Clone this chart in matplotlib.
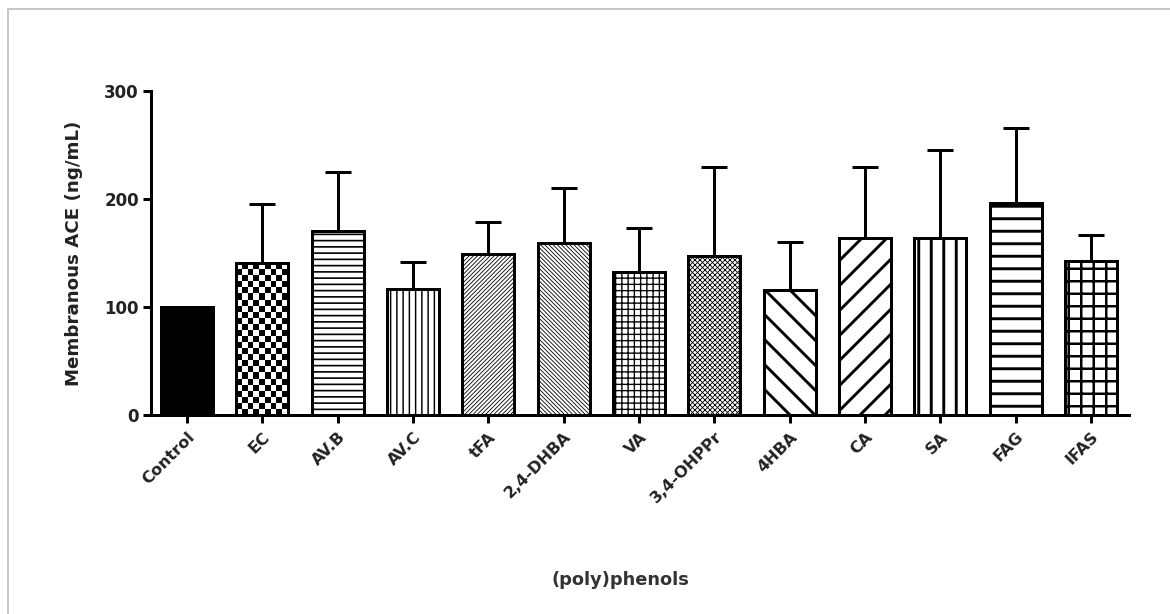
import numpy as np
import matplotlib
matplotlib.use("Agg")
import matplotlib.pyplot as plt
from matplotlib.patches import Rectangle

# Membranous ACE per (poly)phenol treatment, mean and upper SD
compounds = ["Control", "EC", "AV.B", "AV.C", "tFA", "2,4-DHBA", "VA",
             "3,4-OHPPr", "4HBA", "CA", "SA", "FAG", "IFAS"]
ace_mean = [100, 141, 170, 117, 149, 159, 132, 147, 116, 164, 164, 196, 143]
ace_sd = [0, 54, 55, 25, 30, 51, 41, 83, 44, 66, 81, 70, 24]
y_ticks = [0, 100, 200, 300]

# fill pattern per bar: (hatch, hatch line width in pt)
patterns = [None, "checker", "--", "||", "//////", "\\\\\\\\\\\\", "++",
            "xxxxx", "\\", "/", "|", "-", "+"]
hatch_lw = [0, 0, 1.6, 1.4, 0.8, 0.8, 1.3, 0.8, 2.8, 2.8, 2.8, 2.8, 2.4]

DPI = 75
W, H = 1170, 614
px = 72.0 / DPI  # points per pixel

plt.rcParams['font.family'] = ['DejaVu Sans']
plt.rcParams['hatch.color'] = 'black'

fig = plt.figure(figsize=(W / DPI, H / DPI), dpi=DPI)
ax = fig.add_axes([151 / W, (H - 415) / H, (1129 - 151) / W, (415 - 91) / H])

x = np.arange(len(compounds))
bar_w = 0.69
bars = ax.bar(x, ace_mean, width=bar_w, color='white', edgecolor='black',
              linewidth=3 * px, zorder=2)
for b, pat, lw in zip(bars, patterns, hatch_lw):
    if pat is None:
        b.set_facecolor('black')
    elif pat == "checker":
        # checkerboard fill clipped to the bar outline
        b.set_facecolor('none')
        x0, y0 = b.get_x(), b.get_y()
        bw, bh = b.get_width(), b.get_height()
        ncol = 9
        cell = 5.6
        nrow = int(np.ceil(bh / cell))
        board = (np.add.outer(np.arange(nrow), np.arange(ncol)) % 2).astype(float)
        im = ax.imshow(board, cmap='gray', interpolation='nearest', aspect='auto',
                       extent=[x0, x0 + bw, y0, y0 + nrow * cell], zorder=1.5)
        im.set_clip_path(b)
    else:
        b.set_hatch(pat)
        if hasattr(b, 'set_hatch_linewidth'):
            b.set_hatch_linewidth(lw)

# upper error bars only
err = [np.zeros(len(ace_sd)), ace_sd]
ax.errorbar(x[1:], ace_mean[1:], yerr=[e[1:] for e in err], fmt='none',
            ecolor='black', elinewidth=3 * px, capsize=13.5 * px,
            capthick=3 * px, zorder=3)

ax.set_xlim(-0.478, 12.504)
ax.set_ylim(0, 300)
ax.set_yticks(y_ticks)
ax.set_xticks(x)
ax.set_xticklabels(compounds, rotation=45, ha='right', rotation_mode='anchor',
                   fontsize=15.5, fontweight='bold', color='#222222')
ax.tick_params(axis='y', labelsize=16, width=3 * px, length=8 * px,
               pad=4, colors='black', labelcolor='#222222')
for t in ax.get_yticklabels():
    t.set_fontweight('bold')
ax.tick_params(axis='x', width=3 * px, length=8 * px, pad=6)

for side in ['top', 'right']:
    ax.spines[side].set_visible(False)
for side in ['left', 'bottom']:
    ax.spines[side].set_linewidth(3 * px)
ax.spines['left'].set_bounds(0, 300)

ax.set_ylabel("Membranous ACE (ng/mL)", fontsize=17.5, fontweight='bold',
              color='#222222', labelpad=20)
fig.text(620 / W, 1 - 580 / H, "(poly)phenols", ha='center', va='center',
         fontsize=17, fontweight='bold', color='#333333')

# light grey page frame
fig.patches.append(Rectangle((8 / W, -0.1), 1.2, 1 - 9 / H + 0.1,
                             transform=fig.transFigure, fill=False,
                             edgecolor='#c8c8c8', linewidth=2 * px))

fig.savefig("out.png", dpi=DPI)
